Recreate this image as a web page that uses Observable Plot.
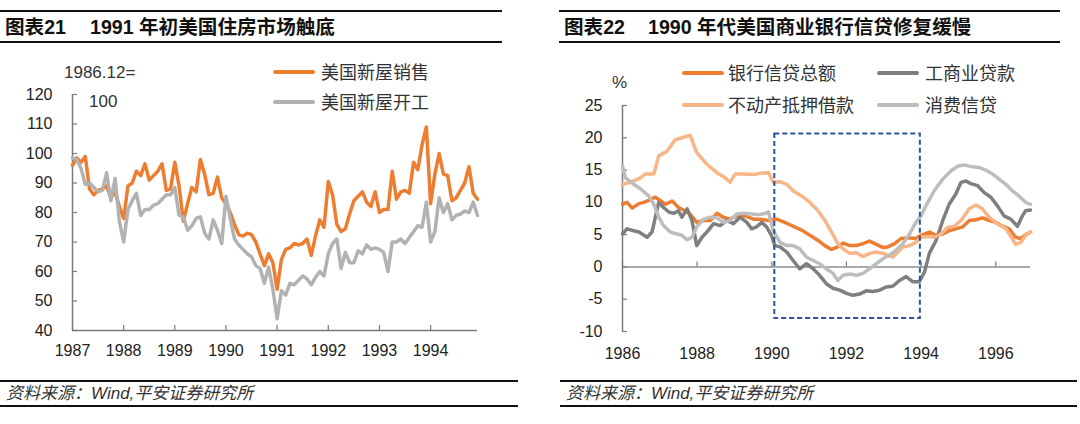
<!DOCTYPE html>
<html><head><meta charset="utf-8">
<script src="https://cdn.jsdelivr.net/npm/d3@7"></script>
<script src="https://cdn.jsdelivr.net/npm/@observablehq/plot@0.6"></script>
<style>
body{margin:0;width:1080px;height:424px;background:#fff;position:relative;overflow:hidden;font-family:"Liberation Sans",Arial,"Noto Sans CJK SC",sans-serif;color:#262626}
.rule{position:absolute;height:2px;background:#111}
.title{position:absolute;font-family:"Liberation Sans",Arial,"Noto Sans CJK SC",sans-serif;font-weight:bold;font-size:19.6px;line-height:24px;white-space:nowrap;color:#111}
.foot{position:absolute;font-style:italic;font-size:17px;line-height:20px;white-space:nowrap;color:#333;font-family:"Liberation Sans",Arial,"Noto Sans CJK SC",sans-serif}
.sw{position:absolute;height:4px;width:42px;border-radius:2px}
.lt{position:absolute;font-size:18px;line-height:22px;white-space:nowrap;color:#333;font-family:"Noto Sans CJK SC",sans-serif}
.note{position:absolute;font-size:17px;line-height:20px;white-space:nowrap;color:#333}
.chart{position:absolute;top:40px}
</style></head>
<body>
<div class="rule" style="left:0;top:10px;width:502px"></div>
<div class="title" style="left:5px;top:15px">图表21<span style="margin-left:24px">1991 年初美国住房市场触底</span></div>
<div class="rule" style="left:0;top:41px;width:502px"></div>

<div class="rule" style="left:559px;top:10px;width:501px"></div>
<div class="title" style="left:564px;top:15px">图表22<span style="margin-left:23px">1990 年代美国商业银行信贷修复缓慢</span></div>
<div class="rule" style="left:559px;top:41px;width:501px"></div>

<div id="left" class="chart" style="left:0"></div>
<div id="right" class="chart" style="left:540px"></div>

<div class="note" style="left:64px;top:63px">1986.12=</div>
<div class="note" style="left:89px;top:92px">100</div>
<div class="note" style="left:612px;top:73px">%</div>

<div id="legL"></div>
<div id="legR"></div>

<div class="rule" style="left:0;top:380px;width:518px"></div>
<div class="foot" style="left:6px;top:384px">资料来源：Wind,平安证券研究所</div>
<div class="rule" style="left:0;top:405px;width:518px"></div>

<div class="rule" style="left:560px;top:380px;width:517px"></div>
<div class="foot" style="left:566px;top:384px">资料来源：Wind,平安证券研究所</div>
<div class="rule" style="left:560px;top:405px;width:517px"></div>

<script>
// ---------- Chart 21 data (monthly, Jan 1987 - Dec 1994, index 1986.12 = 100) ----------
const leftStartYear = 1987;
const newHomeSales = [96,98.5,97,99,88,86,87.5,88,89,85,87,82,
78,89,90,94,92.5,96.5,91,92.5,94,96.5,87.5,88,
97,89,77,83,88.5,87,98,93,86,86.5,92,85,
83,80,76,72.5,72,73,72.5,70,66,62,66,63,
54,64,67.5,68,69.5,69,69.5,71,65.5,72,77.5,75,
90.5,86,76,73.5,74.5,79.5,84,85.5,87,83.5,82,87,
80,81,81,94,84.5,87,87.5,86.5,97,94.5,103,109,
83,93,100,93,92.5,84,85,87.5,90,95.5,86.5,84.5];
const housingStarts = [98.5,98,95,89.5,90,88.5,87,87.5,93.5,84,91.5,77,
70,81,84,86.5,79,81,81,82.5,83,84.5,86,86,
88.5,79,78.5,74,75.5,78,78.5,73,71,77.5,74,69.5,
85.5,78,71,69,67.5,66,65,62,61,56,61.5,54,
44,53.5,52,56,55.5,57,58.5,57.5,55.5,58,60,58.5,
66,69.5,71,61,66.5,63,63,67,66,69,67.5,68,
67.5,66.5,60,70,70,71,69.5,71.5,73.5,75.5,75,83.5,
70,73.5,85,80,83,77.5,79,79.5,80.5,80,83.5,79];
const leftSeriesNames = ["美国新屋销售","美国新屋开工"];
const leftYTicks = [40,50,60,70,80,90,100,110,120];
const leftXTicks = [1987,1988,1989,1990,1991,1992,1993,1994];

// ---------- Chart 22 data ([years after 1986, % yoy]) ----------
const rightBaseYear = 1986;
const bankCredit = [[0.00,9.7],[0.12,10],[0.26,9.1],[0.44,9.8],[0.57,10],[0.70,10.3],[0.88,10.8],[1.01,10.3],[1.15,9.7],[1.33,10.2],[1.50,9.2],[1.68,8.7],[1.81,8.2],[1.99,6.9],[2.17,7.2],[2.35,7.2],[2.53,8.3],[2.70,7.7],[2.88,7.4],[3.06,7.9],[3.28,7.9],[3.51,7.4],[3.68,7.4],[3.91,7.2],[4.13,7.4],[4.35,6.9],[4.57,6.3],[4.80,5.7],[5.02,4.9],[5.24,4.1],[5.42,3.3],[5.60,2.7],[5.77,3.1],[5.91,3.7],[6.09,3.3],[6.26,3.3],[6.44,3.6],[6.62,4.0],[6.80,3.5],[6.98,3.0],[7.11,3.1],[7.29,3.6],[7.46,4.4],[7.69,4.5],[7.86,4.4],[8.00,4.9],[8.22,5.4],[8.40,4.9],[8.58,5.1],[8.75,5.6],[8.93,5.9],[9.11,6.2],[9.29,7.2],[9.47,7.3],[9.64,7.6],[9.82,7.2],[10.00,6.9],[10.18,6.3],[10.36,5.9],[10.53,4.6],[10.67,4.4],[10.80,5.0],[10.93,5.4]];
const ciLoans = [[0.00,5.1],[0.12,5.9],[0.30,5.6],[0.44,5.4],[0.66,4.6],[0.79,5.4],[0.88,7.7],[0.97,10.0],[1.10,9.2],[1.24,8.5],[1.37,8.3],[1.50,8.7],[1.59,7.7],[1.73,9.0],[1.86,7.2],[1.99,3.3],[2.13,4.6],[2.26,5.4],[2.44,6.7],[2.62,6.4],[2.79,7.2],[2.97,6.7],[3.15,7.7],[3.33,6.9],[3.46,5.9],[3.59,6.2],[3.73,6.9],[3.86,6.2],[3.99,4.9],[4.08,3.3],[4.22,3.1],[4.40,2.3],[4.57,1.0],[4.75,-0.3],[4.93,0.5],[5.11,-0.3],[5.28,-1.3],[5.46,-2.6],[5.64,-3.3],[5.82,-3.6],[6.00,-4.1],[6.17,-4.4],[6.35,-4.2],[6.53,-3.7],[6.71,-3.8],[6.89,-3.6],[7.06,-3.1],[7.24,-3.0],[7.42,-2.1],[7.60,-1.5],[7.78,-2.3],[7.95,-2.3],[8.09,-0.8],[8.22,2.1],[8.40,4.1],[8.58,7.2],[8.75,9.7],[8.93,11.3],[9.07,13.1],[9.20,13.3],[9.33,12.9],[9.51,12.6],[9.69,11.5],[9.87,10.8],[10.04,9.5],[10.22,7.9],[10.40,7.4],[10.58,6.3],[10.71,7.9],[10.80,8.7],[10.93,8.8]];
const mortgageLoans = [[0.00,12.8],[0.21,13.1],[0.48,13.8],[0.61,14.4],[0.84,14.4],[0.97,17.2],[1.19,17.9],[1.41,19.7],[1.59,20.0],[1.81,20.4],[1.99,17.7],[2.26,15.9],[2.53,14.6],[2.75,13.8],[2.88,13.1],[3.02,14.4],[3.24,14.4],[3.51,14.3],[3.68,14.5],[3.91,14.6],[4.04,13.1],[4.22,13.2],[4.40,12.8],[4.57,11.8],[4.80,11.0],[5.02,10.0],[5.24,8.7],[5.42,7.2],[5.60,5.4],[5.77,3.6],[5.91,2.8],[6.09,2.1],[6.26,2.2],[6.44,1.6],[6.62,2.1],[6.80,2.3],[6.98,2.1],[7.11,1.8],[7.24,1.5],[7.38,2.3],[7.51,3.1],[7.69,3.3],[7.86,3.8],[8.00,4.6],[8.18,4.7],[8.35,4.6],[8.53,5.1],[8.71,6.1],[8.89,6.3],[9.07,7.2],[9.29,9.0],[9.47,9.6],[9.64,9.0],[9.82,7.7],[10.04,6.7],[10.27,5.9],[10.44,4.4],[10.53,3.5],[10.67,3.8],[10.80,4.9],[10.93,5.4]];
const consumerCredit = [[0.00,15.6],[0.08,13.8],[0.30,12.8],[0.48,12.1],[0.70,11.0],[0.84,9.7],[0.97,7.7],[1.10,6.4],[1.28,5.4],[1.46,5.1],[1.59,4.9],[1.73,4.2],[1.86,4.6],[1.99,6.2],[2.17,7.4],[2.35,7.7],[2.53,7.6],[2.70,6.9],[2.88,7.2],[3.06,8.2],[3.24,8.3],[3.46,8.2],[3.64,8.1],[3.77,8.2],[3.91,8.5],[4.04,5.6],[4.22,3.8],[4.40,3.3],[4.57,3.3],[4.75,2.8],[4.93,1.5],[5.11,1.0],[5.28,0.5],[5.46,-0.3],[5.64,-1.0],[5.77,-2.1],[5.91,-1.3],[6.09,-1.1],[6.26,-1.3],[6.44,-1.0],[6.62,-0.3],[6.80,0.5],[6.98,1.3],[7.15,1.8],[7.33,2.6],[7.51,3.6],[7.69,5.1],[7.86,6.9],[8.00,7.9],[8.13,9.5],[8.35,11.8],[8.58,13.6],[8.80,14.9],[8.98,15.6],[9.15,15.8],[9.38,15.5],[9.56,15.4],[9.73,15.0],[9.91,14.4],[10.09,13.6],[10.27,12.8],[10.44,11.8],[10.62,11.0],[10.80,10.0],[10.93,9.7]];
const rightSeriesNames = ["银行信贷总额","工商业贷款","不动产抵押借款","消费信贷"];
const rightYTicks = [-10,-5,0,5,10,15,20,25];
const rightXTicks = [1986,1988,1990,1992,1994,1996];
const highlightBox = [{x1: 1990.08, x2: 1993.98, y1: -8, y2: 20.6}];

// ---------- styles ----------
const orange = "#ED7D31", gray = "#B2B2B2", darkGray = "#7F7F7F", lightOrange = "#F7B688", lightGray = "#BDBDBD";
const axisColor = "#7a7a7a";
const font = "'Liberation Sans', Arial, sans-serif";
const fmt = d => String(d);

// ---------- left chart ----------
const lx0 = leftStartYear, lx1 = leftStartYear + (newHomeSales.length - 1) / 12;
const salesRows = newHomeSales.map((v, i) => ({x: leftStartYear + i / 12, y: v}));
const startsRows = housingStarts.map((v, i) => ({x: leftStartYear + i / 12, y: v}));

const left = Plot.plot({
  width: 520, height: 330, marginTop: 54, marginRight: 43, marginBottom: 40, marginLeft: 72,
  x: {type: "linear", domain: [lx0, lx1]},
  y: {type: "linear", domain: [40, 120]},
  style: {fontFamily: font, fontSize: "16px", color: "#222", background: "transparent", overflow: "visible"},
  marks: [
    Plot.axisY(leftYTicks, {tickSize: 0, tickPadding: 20, tickFormat: fmt, label: null, fontSize: 16}),
    Plot.axisX(leftXTicks, {tickSize: 0, tickPadding: 14, tickFormat: fmt, label: null, fontSize: 16}),
    Plot.ruleX([lx0], {y1: () => 40, y2: () => 120, stroke: axisColor, strokeWidth: 1.5}),
    Plot.ruleY([40], {x1: () => lx0, x2: () => lx1, stroke: axisColor, strokeWidth: 1.5}),
    Plot.ruleY(leftYTicks, {x1: () => lx0, x2: () => lx0, insetRight: -5, stroke: axisColor, strokeWidth: 1.2}),
    Plot.ruleX(leftXTicks, {y1: () => 40, y2: () => 40, insetBottom: 5, stroke: axisColor, strokeWidth: 1.2}),
    Plot.line(salesRows, {x: "x", y: "y", stroke: orange, strokeWidth: 3.5, strokeLinejoin: "round"}),
    Plot.line(startsRows, {x: "x", y: "y", stroke: gray, strokeWidth: 3.5, strokeLinejoin: "round"})
  ]
});
document.getElementById("left").append(left);

// ---------- right chart ----------
const rx0 = rightBaseYear, rx1 = rightBaseYear + 10.93;
const toRows = (arr) => arr.map(([t, v]) => ({x: rightBaseYear + t, y: v}));
const rightSeries = [
  {name: rightSeriesNames[0], data: toRows(bankCredit), color: orange},
  {name: rightSeriesNames[1], data: toRows(ciLoans), color: darkGray},
  {name: rightSeriesNames[2], data: toRows(mortgageLoans), color: lightOrange},
  {name: rightSeriesNames[3], data: toRows(consumerCredit), color: lightGray}
];
const right = Plot.plot({
  width: 540, height: 330, marginTop: 65, marginRight: 50, marginBottom: 39, marginLeft: 82,
  x: {type: "linear", domain: [rx0, rx1]},
  y: {type: "linear", domain: [-10, 25]},
  style: {fontFamily: font, fontSize: "16px", color: "#222", background: "transparent", overflow: "visible"},
  marks: [
    Plot.axisY(rightYTicks, {tickSize: 0, tickPadding: 20, tickFormat: fmt, label: null, fontSize: 16}),
    Plot.axisX(rightXTicks, {tickSize: 0, tickPadding: 16, tickFormat: fmt, label: null, fontSize: 16}),
    Plot.ruleX([rx0], {y1: () => -10, y2: () => 25, stroke: axisColor, strokeWidth: 1.5}),
    Plot.ruleY([0], {x1: () => rx0, x2: () => rx1, stroke: "#8c8c8c", strokeWidth: 1.5}),
    Plot.ruleY(rightYTicks, {x1: () => rx0, x2: () => rx0, insetRight: -5, stroke: axisColor, strokeWidth: 1.2}),
    Plot.ruleX(rightXTicks, {y1: () => 0, y2: () => 0, insetBottom: 5, stroke: axisColor, strokeWidth: 1.2}),
    ...rightSeries.map(s => Plot.line(s.data, {x: "x", y: "y", stroke: s.color, strokeWidth: 3.5, strokeLinejoin: "round"})),
    Plot.rect(highlightBox, {x1: "x1", x2: "x2", y1: "y1", y2: "y2", fill: "none", stroke: "#2F5597", strokeWidth: 2, strokeDasharray: "5,3"})
  ]
});
document.getElementById("right").append(right);

// ---------- legends ----------
function legendItem(host, name, color, sx, y, tx) {
  const sw = document.createElement("div");
  sw.className = "sw"; sw.style.left = sx + "px"; sw.style.top = (y - 2) + "px"; sw.style.background = color;
  const t = document.createElement("div");
  t.className = "lt"; t.style.left = tx + "px"; t.style.top = (y - 12) + "px"; t.textContent = name;
  host.append(sw, t);
}
const legL = document.getElementById("legL");
legendItem(legL, leftSeriesNames[0], orange, 273, 72, 321);
legendItem(legL, leftSeriesNames[1], gray, 273, 102, 321);
const legR = document.getElementById("legR");
legendItem(legR, rightSeriesNames[0], orange, 682, 73, 728);
legendItem(legR, rightSeriesNames[1], darkGray, 877, 73, 925);
legendItem(legR, rightSeriesNames[2], lightOrange, 682, 105, 728);
legendItem(legR, rightSeriesNames[3], lightGray, 877, 105, 925);
</script>
</body></html>
